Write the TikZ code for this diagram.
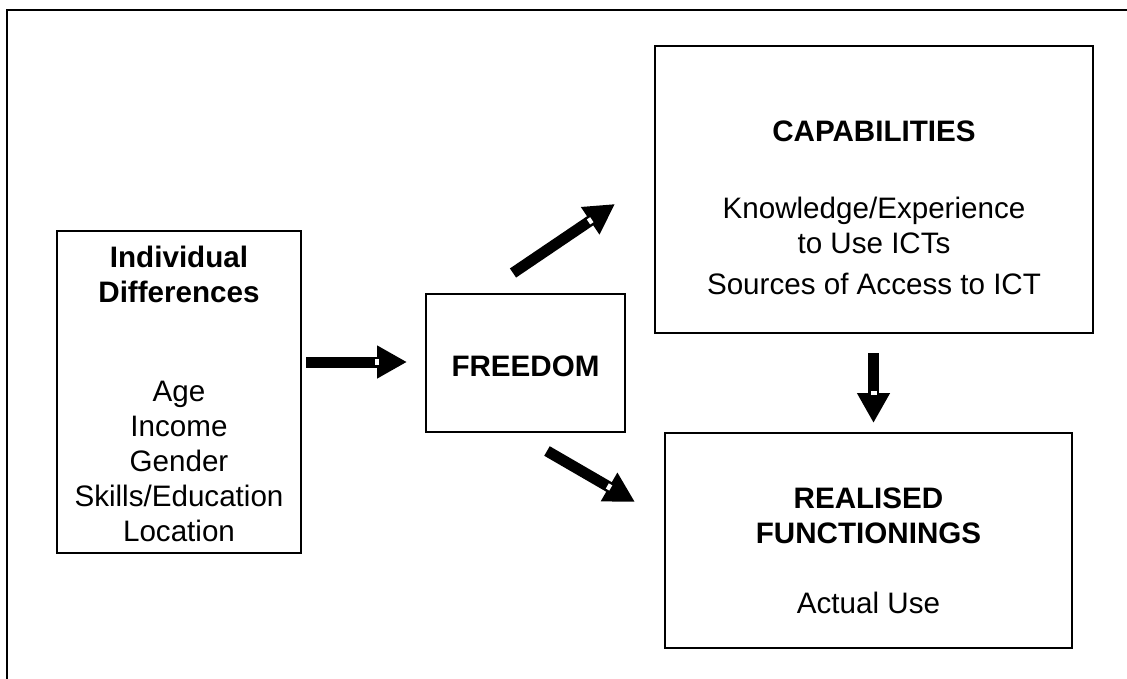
\documentclass[tikz,border=0pt]{standalone}
\usepackage{fontspec}
\setmainfont{Liberation Sans}
\usetikzlibrary{arrows.meta,calc}
\begin{document}
\begin{tikzpicture}[x=1pt,y=-1pt,
  box/.style={draw=black,line width=2pt,inner sep=0pt},
  txt/.style={align=center,inner sep=0pt,font=\fontsize{29.6}{35}\selectfont},
  bigarrow/.style={line width=11pt,-{Triangle[length=30pt,width=31pt]}},
  whitemark/.style={draw=white,line width=6pt}]
\useasboundingbox (0,0) rectangle (1127,679);
\fill[white] (0,0) rectangle (1127,679);
% outer frame
\draw[line width=2pt] (7,679) -- (7,10) -- (1127,10);
% boxes
\node[box,minimum width=244pt,minimum height=322pt] (ind) at (179,392) {};
\node[box,minimum width=199pt,minimum height=138pt] (free) at (525.5,363) {};
\node[box,minimum width=438pt,minimum height=287pt] (cap) at (874,189.5) {};
\node[box,minimum width=407pt,minimum height=215pt] (real) at (868.5,540.5) {};
% texts (base anchor = baseline of last line)
\node[txt,anchor=base] (indT) at (179,302) {\textbf{Individual}\\\textbf{Differences}};
\node[txt,anchor=base] (indL) at (179,541) {Age\\Income\\Gender\\Skills/Education\\Location};
\node[txt] (freeT) at (525.5,366) {\textbf{FREEDOM}};
\node[txt,anchor=base] (capT) at (874,141.5) {\textbf{CAPABILITIES}};
\node[txt,anchor=base] (capL) at (874,253) {Knowledge/Experience\\to Use ICTs};
\node[txt,anchor=base] (capS) at (874,294) {Sources of Access to ICT};
\node[txt,anchor=base] (realT) at (868.5,543) {\textbf{REALISED}\\\textbf{FUNCTIONINGS}};
\node[txt,anchor=base] (realL) at (868.5,613) {Actual Use};
% arrow coordinates
\coordinate (a1s) at (306,362); \coordinate (a1e) at (407,362);
\coordinate (a2s) at (513,273); \coordinate (a2e) at (615,204);
\coordinate (a3s) at (547,451); \coordinate (a3e) at (635,502);
\coordinate (a4s) at (873.5,353); \coordinate (a4e) at (873.5,423);
\foreach \s/\e in {a1s/a1e,a2s/a2e,a3s/a3e,a4s/a4e}{
  \draw[bigarrow] (\s) -- (\e);
  \draw[whitemark] ($(\e)!28pt!(\s)$) -- ($(\e)!32pt!(\s)$);
}
\end{tikzpicture}
\end{document}
